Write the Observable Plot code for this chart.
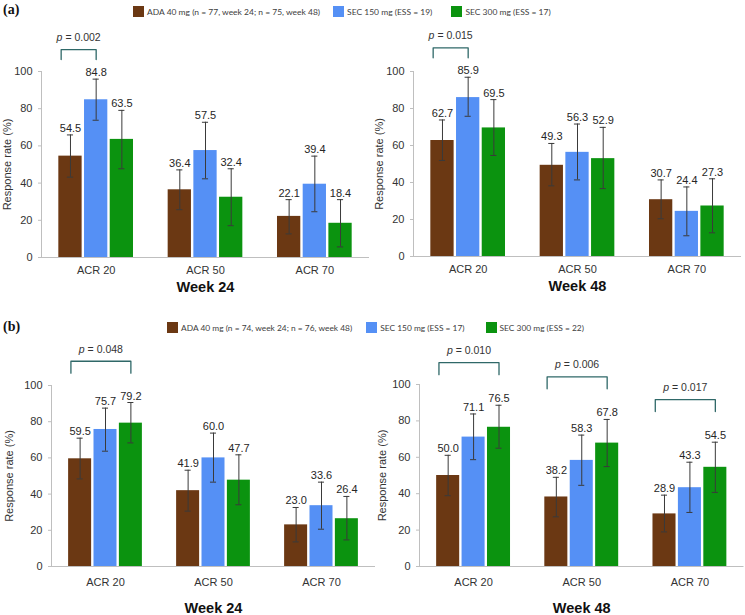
<!DOCTYPE html>
<html><head><meta charset="utf-8">
<script src="https://cdn.jsdelivr.net/npm/d3@7"></script>
<script src="https://cdn.jsdelivr.net/npm/@observablehq/plot@0.6"></script>
<style>
body{margin:0;background:#fff;}
#root{position:relative;width:745px;height:615px;overflow:hidden;font-family:"Liberation Sans",Arial,sans-serif;}
.panel{position:absolute;}
.tag{position:absolute;font-family:"Liberation Serif","Times New Roman",serif;font-weight:bold;font-size:14px;color:#111;line-height:14px;}
.legend{position:absolute;display:flex;align-items:center;font-family:Lato,"Liberation Sans",sans-serif;color:#404040;white-space:nowrap;height:11px;}
.sw{width:11px;height:11px;margin-right:3px;display:inline-block;flex:none;}
</style></head>
<body><div id="root"></div>
<script>
const categories = ["ACR 20", "ACR 50", "ACR 70"];
const treatments = ["ADA 40 mg", "SEC 150 mg", "SEC 300 mg"];
const colors = ["#6b3813", "#5590f5", "#0b930f"];

const legendA = ["ADA 40 mg (n = 77, week 24; n = 75, week 48)", "SEC 150 mg (ESS = 19)", "SEC 300 mg (ESS = 17)"];
const legendB = ["ADA 40 mg (n = 74, week 24; n = 76, week 48)", "SEC 150 mg (ESS = 17)", "SEC 300 mg (ESS = 22)"];

// values ordered: ACR20 (ADA, SEC150, SEC300), ACR50 (...), ACR70 (...)
const rateA24 = [54.5, 84.8, 63.5, 36.4, 57.5, 32.4, 22.1, 39.4, 18.4];
const lowA24  = [43.2, 73.8, 47.7, 25.7, 42.3, 17.1, 12.7, 24.6, 5.7];
const highA24 = [65.9, 95.9, 79.1, 47.1, 72.7, 47.7, 31.1, 54.5, 31.1];

const rateA48 = [62.7, 85.9, 69.5, 49.3, 56.3, 52.9, 30.7, 24.4, 27.3];
const lowA48  = [51.9, 75.8, 54.6, 38.2, 41.4, 36.7, 20.4, 11.2, 12.8];
const highA48 = [73.8, 96.9, 84.8, 61.1, 71.6, 69.8, 41.4, 37.6, 42.0];

const rateB24 = [59.5, 75.7, 79.2, 41.9, 60.0, 47.7, 23.0, 33.6, 26.4];
const lowB24  = [48.4, 63.7, 68.3, 30.6, 46.6, 34.1, 13.6, 20.6, 14.7];
const highB24 = [70.9, 87.5, 90.6, 53.2, 73.7, 61.7, 32.6, 46.6, 38.7];

const rateB48 = [50.0, 71.1, 76.5, 38.2, 58.3, 67.8, 28.9, 43.3, 54.5];
const lowB48  = [38.9, 58.7, 65.0, 27.3, 44.6, 54.9, 19.0, 29.7, 40.7];
const highB48 = [61.1, 83.8, 88.6, 49.0, 72.2, 80.8, 39.2, 57.3, 68.3];

// p-value annotations: value, category, compared treatment (vs ADA 40 mg)
const pValA24 = ["0.002"], pCatA24 = ["ACR 20"], pVsA24 = ["SEC 150 mg"];
const pValA48 = ["0.015"], pCatA48 = ["ACR 20"], pVsA48 = ["SEC 150 mg"];
const pValB24 = ["0.048"], pCatB24 = ["ACR 20"], pVsB24 = ["SEC 300 mg"];
const pValB48 = ["0.010", "0.006", "0.017"], pCatB48 = ["ACR 20", "ACR 50", "ACR 70"], pVsB48 = ["SEC 300 mg", "SEC 300 mg", "SEC 300 mg"];

const STEP = 0.235, BW = 0.213, CAP = 0.028;
const FONT = '"Liberation Sans", Arial, sans-serif';

function rowsOf(rate, low, high) {
  return categories.flatMap((c, ci) => treatments.map((t, tj) => {
    const k = ci * 3 + tj;
    return {cat: c, ci, tr: t, tj, rate: rate[k], low: low[k], high: high[k], pos: ci + (tj - 1) * STEP};
  }));
}

function bracketsOf(vals, cats, vs, rows, gap, tick) {
  return vals.map((p, i) => {
    const ci = categories.indexOf(cats[i]);
    const tj = treatments.indexOf(vs[i]);
    const maxHigh = d3.max(rows.filter(r => r.ci === ci), r => r.high);
    const bottom = maxHigh + gap, top = bottom + tick;
    const x1 = ci - STEP - 0.4 * BW, x2 = ci + (tj - 1) * STEP;
    return {p, id: i, x1, x2, bottom, top, mid: (x1 + x2) / 2};
  });
}

function panel(o) {
  const rows = rowsOf(o.rate, o.low, o.high);
  const br = bracketsOf(o.pv, o.pc, o.ps, rows, o.gap, o.tick);
  const pts = br.flatMap(b => [
    {id: b.id, x: b.x1, y: b.bottom}, {id: b.id, x: b.x1, y: b.top},
    {id: b.id, x: b.x2, y: b.top}, {id: b.id, x: b.x2, y: b.bottom}
  ]);
  const svg = Plot.plot({
    width: o.width, height: o.height,
    marginLeft: o.ml, marginRight: o.mr, marginTop: o.mt, marginBottom: o.mb,
    style: {fontFamily: FONT, fontSize: "11px", color: "#333", background: "transparent", overflow: "visible"},
    x: {type: "linear", domain: [-0.5, 2.5]},
    y: {domain: [0, 100], label: null},
    color: {domain: treatments, range: colors},
    marks: [
      Plot.axisY({ticks: [0, 20, 40, 60, 80, 100], tickSize: 3, tickPadding: 6, stroke: "#bfbfbf", fill: "#333", label: null, fontSize: 11}),
      Plot.axisX({ticks: [0, 1, 2], tickFormat: i => categories[i], tickSize: 0, tickPadding: o.tickPad, fill: "#333", label: null, fontSize: 11}),
      Plot.rectY(rows, {x1: d => d.pos - BW / 2, x2: d => d.pos + BW / 2, y1: 0, y2: "rate", fill: "tr"}),
      Plot.ruleY([0], {stroke: "#bfbfbf"}),
      Plot.ruleX([-0.5], {y1: 0, y2: 100, stroke: "#bfbfbf"}),
      Plot.ruleX(rows, {x: "pos", y1: "low", y2: "high", stroke: "#3a3a3a", strokeWidth: 1}),
      Plot.ruleY(rows, {y: "high", x1: d => d.pos - CAP, x2: d => d.pos + CAP, stroke: "#3a3a3a"}),
      Plot.ruleY(rows, {y: "low", x1: d => d.pos - CAP, x2: d => d.pos + CAP, stroke: "#3a3a3a"}),
      Plot.text(rows, {x: "pos", y: "high", text: d => d.rate.toFixed(1), lineAnchor: "bottom", dy: -3, fill: "#262626", fontSize: 11}),
      Plot.line(pts, {x: "x", y: "y", z: "id", stroke: "#2f6868", strokeWidth: 1.3}),
      Plot.text(br, {x: "mid", y: "top", text: d => "p = " + d.p, dy: -12, fill: "#333", fontSize: 10.5}),
      Plot.text([o.week], {frameAnchor: "bottom", lineAnchor: "middle", textAnchor: "middle", dy: o.weekDy, fontWeight: "bold", fontSize: 14.5, fill: "#111"}),
      Plot.text(["Response rate (%)"], {frameAnchor: "left", textAnchor: "middle", lineAnchor: "middle", dx: o.labelDx, rotate: -90, fontSize: 11, fill: "#333"})
    ]
  });
  svg.querySelectorAll("text").forEach(t => {
    if (t.children.length === 0 && t.textContent.startsWith("p = ")) {
      const rest = t.textContent.slice(1);
      t.textContent = "";
      const a = document.createElementNS("http://www.w3.org/2000/svg", "tspan");
      a.setAttribute("font-style", "italic"); a.textContent = "p";
      const b = document.createElementNS("http://www.w3.org/2000/svg", "tspan");
      b.textContent = rest;
      t.appendChild(a); t.appendChild(b);
    }
  });
  const wrap = document.createElement("div");
  wrap.className = "panel";
  wrap.style.left = o.left + "px"; wrap.style.top = o.top + "px";
  wrap.appendChild(svg);
  return wrap;
}

function legend(labels, left, top, gaps, targetW) {
  const ctx = document.createElement("canvas").getContext("2d");
  ctx.font = "100px Lato";
  const fs = 100 * targetW / ctx.measureText(labels[0]).width;
  const div = document.createElement("div");
  div.className = "legend";
  div.style.left = left + "px"; div.style.top = top + "px"; div.style.fontSize = fs + "px";
  labels.forEach((lab, i) => {
    const sw = document.createElement("span"); sw.className = "sw"; sw.style.background = colors[i];
    const tx = document.createElement("span"); tx.textContent = lab; tx.style.marginRight = gaps[i] + "px";
    div.appendChild(sw); div.appendChild(tx);
  });
  return div;
}

const root = document.getElementById("root");
function tag(txt, left, top) { const d = document.createElement("div"); d.className = "tag"; d.textContent = txt; d.style.left = left + "px"; d.style.top = top + "px"; return d; }

root.appendChild(panel({rate: rateA24, low: lowA24, high: highA24, pv: pValA24, pc: pCatA24, ps: pVsA24, gap: 10.5, tick: 5.4,
  week: "Week 24", left: 0, top: 20, width: 372, height: 280, ml: 41, mr: 3, mt: 51, mb: 43, tickPad: 9, weekDy: 29.5, labelDx: -34}));
root.appendChild(panel({rate: rateA48, low: lowA48, high: highA48, pv: pValA48, pc: pCatA48, ps: pVsA48, gap: 10.5, tick: 5.4,
  week: "Week 48", left: 372, top: 20, width: 373, height: 280, ml: 41, mr: 4, mt: 51, mb: 44, tickPad: 9, weekDy: 30, labelDx: -34}));
root.appendChild(panel({rate: rateB24, low: lowB24, high: highB24, pv: pValB24, pc: pCatB24, ps: pVsB24, gap: 16.2, tick: 6.6,
  week: "Week 24", left: 0, top: 335, width: 380, height: 280, ml: 51, mr: 5, mt: 50, mb: 49, tickPad: 12, weekDy: 42, labelDx: -42}));
root.appendChild(panel({rate: rateB48, low: lowB48, high: highB48, pv: pValB48, pc: pCatB48, ps: pVsB48, gap: 16.8, tick: 6.6,
  week: "Week 48", left: 380, top: 335, width: 365, height: 280, ml: 39, mr: 1.5, mt: 49, mb: 49, tickPad: 12, weekDy: 42, labelDx: -37}));

root.appendChild(legend(legendA, 133, 6, [13, 19, 0], 174));
root.appendChild(legend(legendB, 167, 322, [14, 21, 0], 172));
root.appendChild(tag("(a)", 3, 3));
root.appendChild(tag("(b)", 3, 320));
</script>
</body></html>
